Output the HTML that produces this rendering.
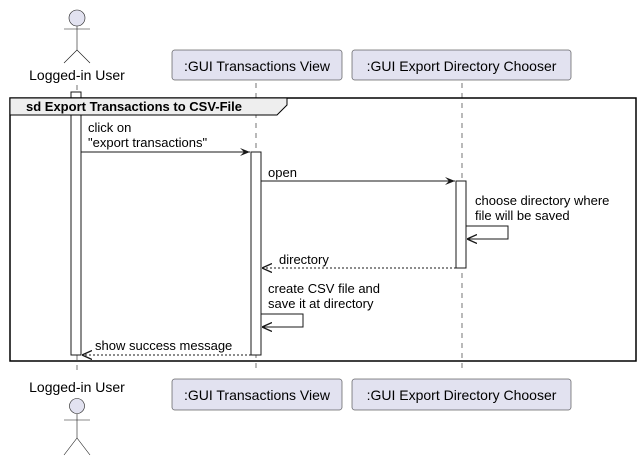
<!DOCTYPE html>
<html><head><meta charset="utf-8"><style>
html,body{margin:0;padding:0;background:#fff;}
svg{display:block;font-family:"Liberation Sans","DejaVu Sans",sans-serif;}
</style></head><body>
<svg width="640" height="460" viewBox="0 0 640 460" xmlns="http://www.w3.org/2000/svg">
<defs>
<marker id="a" viewBox="0 0 10 10" refX="10" refY="5" markerWidth="10" markerHeight="10" orient="auto" markerUnits="userSpaceOnUse"><path d="M0,1 L10,5 L0,9 L4,5 Z" fill="#181818"/></marker>
<marker id="o" viewBox="0 0 10 10" refX="10" refY="5" markerWidth="10" markerHeight="10" orient="auto" markerUnits="userSpaceOnUse"><path d="M0,0.5 L10,5 L0,9.5" fill="none" stroke="#181818" stroke-width="1.3"/></marker>
</defs>
<g stroke="#181818" stroke-width="0.6" stroke-dasharray="5,5">
<line x1="77" y1="85" x2="77" y2="372"/>
<line x1="256" y1="83" x2="256" y2="372"/>
<line x1="462" y1="83" x2="462" y2="372"/>
</g>
<g stroke="#181818" stroke-width="0.6" fill="none">
<circle cx="77" cy="18" r="8" fill="#E2E2F0"/>
<line x1="77" y1="26" x2="77" y2="50"/>
<line x1="64" y1="29" x2="90" y2="29"/>
<line x1="77" y1="50" x2="64" y2="63"/>
<line x1="77" y1="50" x2="90" y2="63"/>
</g>
<text x="77" y="80" font-size="14" text-anchor="middle" fill="#000">Logged-in User</text>
<rect x="172" y="50" width="170" height="30" rx="2.5" fill="#E2E2F0" stroke="#181818" stroke-width="0.5"/>
<text x="257" y="71" font-size="14" text-anchor="middle">:GUI Transactions View</text>
<rect x="352" y="50" width="219" height="30" rx="2.5" fill="#E2E2F0" stroke="#181818" stroke-width="0.5"/>
<text x="461.5" y="71" font-size="14" text-anchor="middle">:GUI Export Directory Chooser</text>
<rect x="71" y="92" width="10" height="263" fill="#fff" stroke="#181818" stroke-width="1"/>
<rect x="10" y="98" width="626" height="263" fill="none" stroke="#000" stroke-width="1.5"/>
<path d="M10,98 L287,98 L287,105 L277,115 L10,115 Z" fill="#EEEEEE" stroke="#000" stroke-width="1"/>
<text x="26" y="111" font-size="13" font-weight="bold">sd Export Transactions to CSV-File</text>
<rect x="251" y="152" width="10" height="203" fill="#fff" stroke="#181818" stroke-width="1"/>
<rect x="456" y="181" width="10" height="87" fill="#fff" stroke="#181818" stroke-width="1"/>
<g font-size="13" fill="#000">
<text x="88" y="132">click on</text>
<text x="88" y="147">"export transactions"</text>
<text x="268" y="177">open</text>
<text x="475" y="205">choose directory where</text>
<text x="475" y="220">file will be saved</text>
<text x="279" y="264">directory</text>
<text x="268" y="293">create CSV file and</text>
<text x="268" y="308">save it at directory</text>
<text x="95" y="350">show success message</text>
</g>
<g stroke="#181818" stroke-width="1" fill="none">
<line x1="81" y1="152" x2="250" y2="152" marker-end="url(#a)"/>
<line x1="261" y1="181" x2="455" y2="181" marker-end="url(#a)"/>
<polyline points="466,226 508,226 508,239 467,239" marker-end="url(#o)"/>
<line x1="456" y1="268" x2="262" y2="268" stroke-dasharray="2,2" marker-end="url(#o)"/>
<polyline points="261,314 303,314 303,327 262,327" marker-end="url(#o)"/>
<line x1="251" y1="355" x2="82" y2="355" stroke-dasharray="2,2" marker-end="url(#o)"/>
</g>
<text x="77" y="392" font-size="14" text-anchor="middle">Logged-in User</text>
<g stroke="#181818" stroke-width="0.6" fill="none">
<circle cx="77" cy="406" r="7.5" fill="#E2E2F0"/>
<line x1="77" y1="414" x2="77" y2="438"/>
<line x1="64" y1="420" x2="90" y2="420"/>
<line x1="77" y1="438" x2="64" y2="455"/>
<line x1="77" y1="438" x2="90" y2="455"/>
</g>
<rect x="172" y="379" width="170" height="31" rx="2.5" fill="#E2E2F0" stroke="#181818" stroke-width="0.5"/>
<text x="257" y="400" font-size="14" text-anchor="middle">:GUI Transactions View</text>
<rect x="352" y="379" width="219" height="31" rx="2.5" fill="#E2E2F0" stroke="#181818" stroke-width="0.5"/>
<text x="461.5" y="400" font-size="14" text-anchor="middle">:GUI Export Directory Chooser</text>
</svg>
</body></html>
